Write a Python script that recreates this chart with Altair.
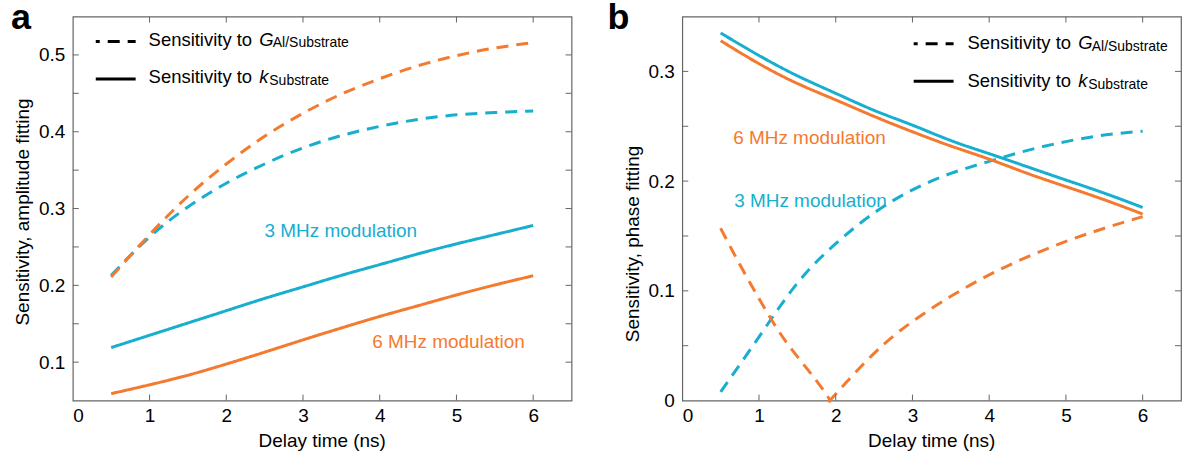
import altair as alt
import pandas as pd

# ---------------- data ----------------
t = [0.5, 1.0, 1.5, 2.0, 2.5, 3.0, 3.5, 4.0, 4.5, 5.0, 5.5, 6.0]

# panel a: amplitude fitting
amp_G_3MHz = [0.213, 0.263, 0.302, 0.333, 0.358, 0.379, 0.395, 0.407, 0.416, 0.422, 0.425, 0.427]
amp_G_6MHz = [0.211, 0.266, 0.316, 0.358, 0.394, 0.424, 0.449, 0.469, 0.486, 0.499, 0.509, 0.516]
amp_k_3MHz = [0.119, 0.135, 0.151, 0.167, 0.183, 0.198, 0.213, 0.227, 0.241, 0.254, 0.266, 0.278]
amp_k_6MHz = [0.059, 0.0705, 0.083, 0.0975, 0.113, 0.129, 0.1445, 0.1595, 0.1735, 0.1875, 0.2005, 0.2125]

# panel b: phase fitting
ph_G_3MHz = [0.008, 0.058, 0.107, 0.143, 0.171, 0.192, 0.207, 0.218, 0.228, 0.236, 0.242, 0.2455]
ph_k_3MHz = [0.335, 0.3145, 0.296, 0.280, 0.2645, 0.251, 0.237, 0.225, 0.213, 0.201, 0.189, 0.176]
ph_k_6MHz = [0.328, 0.307, 0.289, 0.274, 0.259, 0.245, 0.232, 0.220, 0.207, 0.195, 0.183, 0.170]
ph_G_6MHz_t_down = [0.5, 0.75, 1.0, 1.25, 1.5, 1.75, 1.93]
ph_G_6MHz_down = [0.157, 0.124, 0.093, 0.064, 0.040, 0.018, 0.0]
ph_G_6MHz_t_up = [1.93, 2.0, 2.5, 3.0, 3.5, 4.0, 4.5, 5.0, 5.5, 6.0]
ph_G_6MHz_up = [0.0, 0.006, 0.043, 0.072, 0.095, 0.1145, 0.131, 0.145, 0.157, 0.1676]

x_labels = [0, 1, 2, 3, 4, 5, 6]
x_ticks = [1, 2, 3, 4, 5, 6]
amp_y_labels = [0.1, 0.2, 0.3, 0.4, 0.5]
amp_y_ticks = [0.1, 0.15, 0.2, 0.25, 0.3, 0.35, 0.4, 0.45, 0.5]
ph_y_labels = [0, 0.1, 0.2, 0.3]
ph_y_ticks = [0.05, 0.1, 0.15, 0.2, 0.25, 0.3]

# ---------------- style ----------------
ORANGE = "#F47A30"
CYAN = "#17AECF"
FRAME = "#666666"
FONT = "Liberation Sans"
FS = 19
LFS = 18.5
W, H = 500, 385


def series(ts, vs, name, kind, freq):
    return pd.DataFrame({"t": ts, "v": vs, "series": name, "kind": kind, "freq": freq})


amp_df = pd.concat([
    series(t, amp_G_3MHz, "G3", "G", "3 MHz"),
    series(t, amp_G_6MHz, "G6", "G", "6 MHz"),
    series(t, amp_k_3MHz, "k3", "k", "3 MHz"),
    series(t, amp_k_6MHz, "k6", "k", "6 MHz"),
])
ph_df = pd.concat([
    series(t, ph_G_3MHz, "G3", "G", "3 MHz"),
    series(ph_G_6MHz_t_down, ph_G_6MHz_down, "G6a", "G", "6 MHz"),
    series(ph_G_6MHz_t_up, ph_G_6MHz_up, "G6b", "G", "6 MHz"),
    series(t, ph_k_3MHz, "k3", "k", "3 MHz"),
    series(t, ph_k_6MHz, "k6", "k", "6 MHz"),
])

dummy = pd.DataFrame({"d": [0]})


def txt(text, x, y, size=FS, color="black", align="left", style="normal", weight="normal", angle=0):
    kw = dict(text=text, font=FONT, fontSize=size, color=color, align=align,
              baseline="alphabetic", fontStyle=style, fontWeight=weight)
    if angle:
        kw["angle"] = angle
    return alt.Chart(dummy).mark_text(**kw).encode(x=alt.value(x), y=alt.value(y))


def hrule(x1, x2, y, dash=None):
    kw = dict(color="black", strokeWidth=3)
    if dash:
        kw["strokeDash"] = dash
        kw["strokeDashOffset"] = 8
    return alt.Chart(dummy).mark_rule(**kw).encode(
        x=alt.value(x1), x2=alt.value(x2), y=alt.value(y))


def panel(df, domain, y_labels, y_ticks, y_fmt, letter, letter_x, ytitle, ytitle_x, ytitle_y,
          leg_x, leg_y, texts, anchor=False):
    xs = alt.Scale(domain=[0, 6.5], nice=False, zero=False)
    ys = alt.Scale(domain=domain, nice=False, zero=False)
    xax = alt.Axis(values=x_labels, ticks=False, domain=False, grid=False,
                   title=None, labelFontSize=FS, labelFont=FONT,
                   labelColor="black", labelPadding=6, format="d")
    yax = alt.Axis(values=y_labels, ticks=False, domain=False, grid=False,
                   title=None, labelFontSize=FS, labelFont=FONT,
                   labelColor="black", labelPadding=8, format=y_fmt)
    lines = alt.Chart(df).mark_line(strokeWidth=3, interpolate="natural").encode(
        x=alt.X("t:Q", scale=xs, axis=xax),
        y=alt.Y("v:Q", scale=ys, axis=yax),
        color=alt.Color("freq:N", scale=alt.Scale(domain=["3 MHz", "6 MHz"], range=[CYAN, ORANGE]), legend=None),
        strokeDash=alt.StrokeDash("kind:N", scale=alt.Scale(domain=["G", "k"], range=[[12, 8], [1, 0]]), legend=None),
        detail="series:N",
    )
    xt = alt.Chart(pd.DataFrame({"t": x_ticks}))
    yt = alt.Chart(pd.DataFrame({"v": y_ticks}))
    tick_kw = dict(color=FRAME, strokeWidth=1)
    ticks = [
        xt.mark_rule(**tick_kw).encode(x=alt.X("t:Q", scale=xs, axis=xax), y=alt.value(H), y2=alt.value(H - 6)),
        xt.mark_rule(**tick_kw).encode(x=alt.X("t:Q", scale=xs, axis=xax), y=alt.value(0), y2=alt.value(6)),
        yt.mark_rule(**tick_kw).encode(y=alt.Y("v:Q", scale=ys, axis=yax), x=alt.value(0), x2=alt.value(6)),
        yt.mark_rule(**tick_kw).encode(y=alt.Y("v:Q", scale=ys, axis=yax), x=alt.value(W), x2=alt.value(W - 6)),
    ]
    lx1, lx2, tx, gx = leg_x
    r1, r2, b1, b2 = leg_y
    legend = [
        hrule(lx1, lx2, r1, dash=[12, 8]),
        hrule(lx1, lx2, r2),
        txt("Sensitivity to", tx, b1, size=LFS),
        txt("G", gx, b1, size=LFS, style="italic"),
        txt("Al/Substrate", gx + 13.5, b1 + 1.5, size=14),
        txt("Sensitivity to", tx, b2, size=LFS),
        txt("k", gx, b2, size=LFS, style="italic"),
        txt("Substrate", gx + 10, b2 + 1.5, size=14),
    ]
    extras = [
        txt(letter, letter_x, 12, size=36, weight="bold"),
        txt(ytitle, ytitle_x, ytitle_y, align="center", angle=270),
        txt("Delay time (ns)", W / 2, 432, align="center"),
    ]
    for (s, x, y, c, a) in texts:
        extras.append(txt(s, x, y, color=c, align=a))
    if anchor:
        extras.append(alt.Chart(dummy).mark_rule(strokeOpacity=0).encode(
            x=alt.value(-72), x2=alt.value(-71), y=alt.value(-16), y2=alt.value(-15)))
    return alt.layer(lines, *ticks, *legend, *extras).properties(width=W, height=H)


left = panel(amp_df, [0.05, 0.55], amp_y_labels, amp_y_ticks, ".1f", "a", -62,
             "Sensitivity, amplitude fitting", -44, 196,
             (23, 63, 76, 187), (25, 62.6, 29.5, 67),
             [("3 MHz modulation", 268.6, 221, CYAN, "center"),
              ("6 MHz modulation", 376.6, 332.6, ORANGE, "center")],
             anchor=True)
right = panel(ph_df, [0, 0.35], ph_y_labels, ph_y_ticks, "~g", "b", -75,
              "Sensitivity, phase fitting", -43, 228,
              (232, 272, 286, 397), (27.3, 65, 32.6, 71),
              [("6 MHz modulation", 51, 127.6, ORANGE, "left"),
               ("3 MHz modulation", 52, 190.6, CYAN, "left")])

chart = alt.hconcat(left, right, spacing=111, bounds="flush").properties(
    padding={"left": 0, "top": -2, "right": 0, "bottom": 0}, background="white"
).configure_view(stroke=FRAME, strokeWidth=1.2)

chart.save("out.html", embed_options={"renderer": "svg", "actions": False})
